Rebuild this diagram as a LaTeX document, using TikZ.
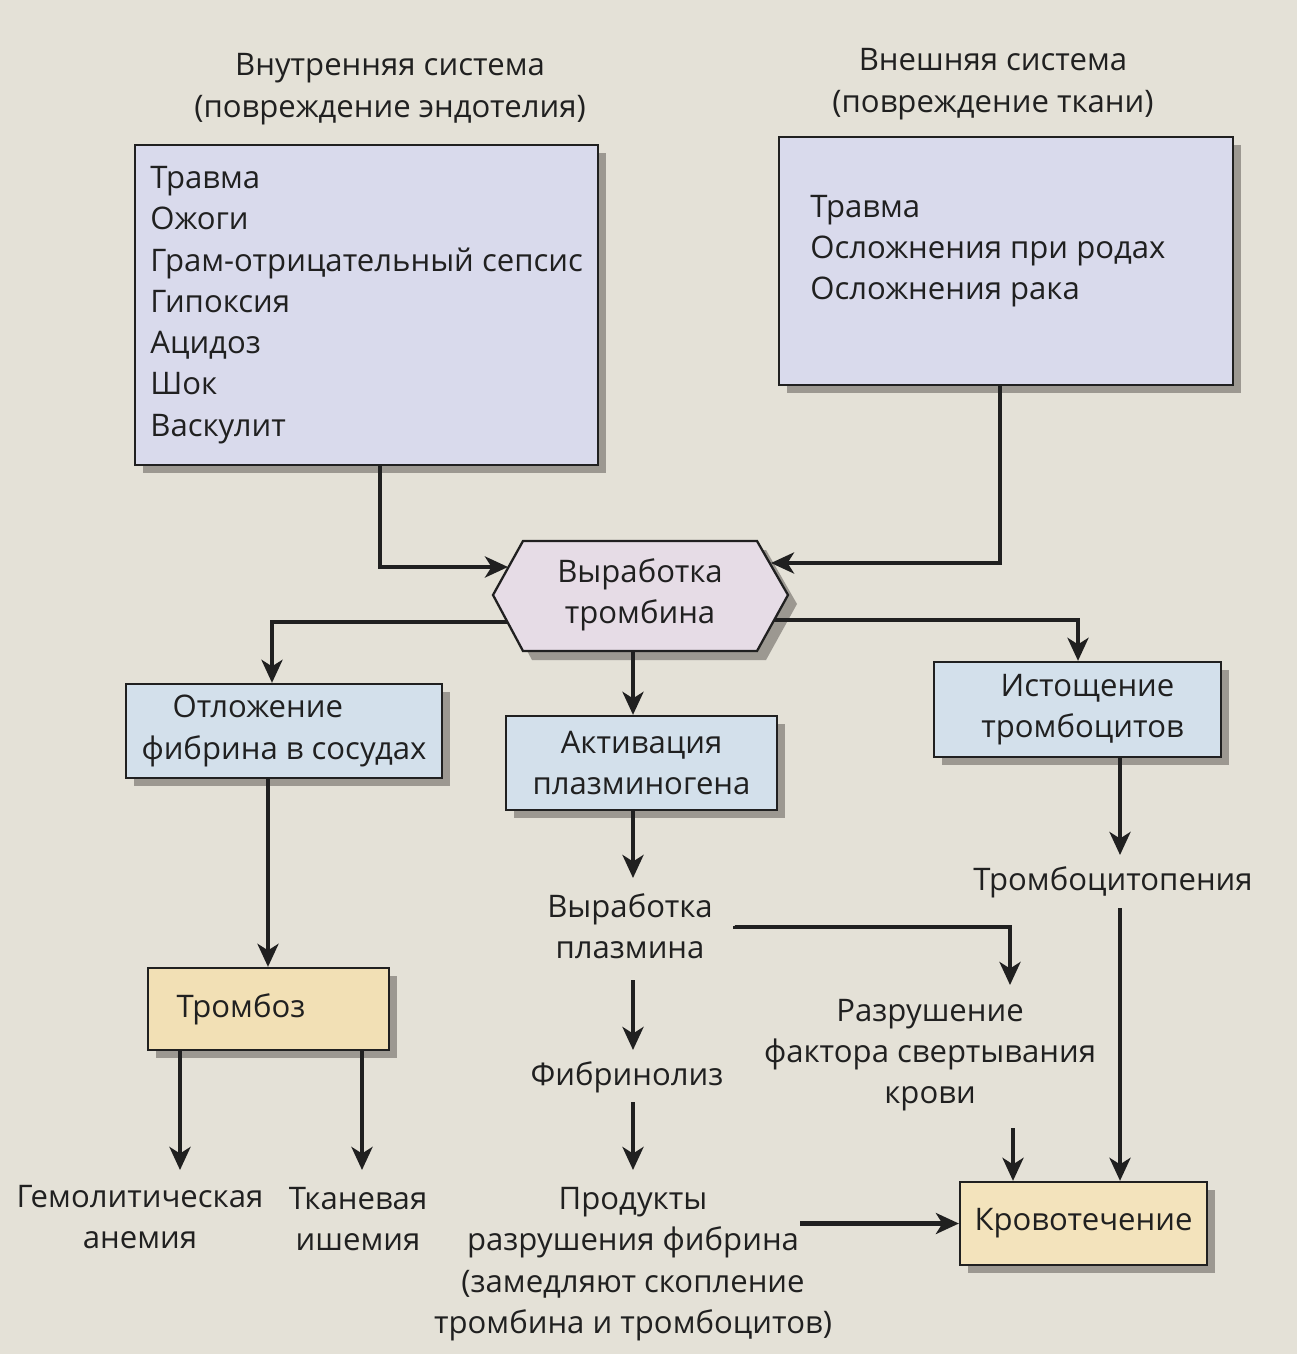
\documentclass[tikz,border=0pt]{standalone}
\usepackage{fontspec}
\setmainfont{Open Sans}
\usetikzlibrary{arrows.meta,shadows,calc}
\definecolor{bg}{HTML}{E4E1D7}
\definecolor{lav}{HTML}{D9DAEC}
\definecolor{hexc}{HTML}{E6DCE6}
\definecolor{lblue}{HTML}{D3E0EB}
\definecolor{tan}{HTML}{F2E0B5}
\definecolor{tan2}{HTML}{F3E3BC}
\definecolor{ink}{HTML}{202020}
\definecolor{shad}{HTML}{9C9891}
\tikzset{
  every node/.style={text=ink, font=\fontsize{17.7}{23.5}\selectfont},
  box/.style={draw=ink, line width=1.3pt, inner sep=0pt, align=center,
    drop shadow={shadow xshift=0.16cm, shadow yshift=-0.16cm, fill=shad, opacity=1}},
  txt/.style={align=center, inner sep=2pt},
  arr/.style={draw=ink, line width=2.3pt, -{Stealth[length=0.46cm, width=0.42cm, inset=0.13cm]}},
  ln/.style={draw=ink, line width=2.3pt},
}
\begin{document}
\begin{tikzpicture}[x=0.02cm, y=-0.02cm]
\useasboundingbox (0,0) rectangle (1297,1354);
\fill[bg] (0,0) rectangle (1297,1354);

% titles
\node[txt] (t1) at (390,89) {Внутренняя система\\(повреждение эндотелия)};
\node[txt] (t2) at (993,84) {Внешняя система\\(повреждение ткани)};

% top boxes
\node[box, fill=lav, minimum width=9.26cm, minimum height=6.4cm] (box1) at (366.5,305) {};
\node[txt, anchor=west, align=left, inner sep=0pt] (box1t) at (150,305)
  {Травма\\Ожоги\\Грам-отрицательный сепсис\\Гипоксия\\Ацидоз\\Шок\\Васкулит};
\node[box, fill=lav, minimum width=9.08cm, minimum height=4.96cm] (box2) at (1006,261) {};
\node[txt, anchor=west, align=left, inner sep=0pt] (box2t) at (810,251)
  {Травма\\Осложнения при родах\\Осложнения рака};

% hexagon
\coordinate (hL) at (493,595);
\coordinate (hTL) at (523,541);
\coordinate (hTR) at (757,541);
\coordinate (hR) at (788,595);
\coordinate (hBR) at (757,651);
\coordinate (hBL) at (523,651);
\fill[shad] ($(hL)+(9,9)$) -- ($(hTL)+(9,9)$) -- ($(hTR)+(9,9)$) -- ($(hR)+(9,9)$) -- ($(hBR)+(9,9)$) -- ($(hBL)+(9,9)$) -- cycle;
\filldraw[fill=hexc, draw=ink, line width=1.3pt] (hL) -- (hTL) -- (hTR) -- (hR) -- (hBR) -- (hBL) -- cycle;
\node[txt] (thr) at (640,595) {Выработка\\тромбина};
\coordinate (h1) at (508,567);
\coordinate (h2) at (771,563);
\coordinate (h3) at (507,622);
\coordinate (h4) at (774,620);
\coordinate (h5) at (633,651);

% middle boxes
\node[box, fill=lblue, minimum width=6.32cm, minimum height=1.88cm] (box3) at (284,731)
  {Отложение\hspace*{1.05cm}\\фибрина в сосудах};
\node[box, fill=lblue, minimum width=5.42cm, minimum height=1.88cm] (box4) at (641.5,763)
  {Активация\\плазминогена};
\node[box, fill=lblue, minimum width=5.74cm, minimum height=1.9cm] (box5) at (1077.5,709.5)
  {\hspace*{0.4cm}Истощение\\\hspace*{0.2cm}тромбоцитов};

% lower
\node[txt] (plas) at (630,926) {Выработка\\плазмина};
\node[txt] (tcp) at (1113,882) {Тромбоцитопения};
\node[txt] (razr) at (930,1055) {Разрушение\\фактора свертывания\\крови};
\node[txt] (fib) at (627,1077) {Фибринолиз};
\node[txt] (prod) at (633,1264) {Продукты\\разрушения фибрина\\(замедляют скопление\\тромбина и тромбоцитов)};
\node[box, fill=tan, minimum width=4.82cm, minimum height=1.64cm] (tromb) at (268.5,1009)
  {Тромбоз\hspace*{1.1cm}};
\node[box, fill=tan2, minimum width=4.94cm, minimum height=1.66cm] (krov) at (1083.5,1223.5)
  {Кровотечение};
\node[txt] (gem) at (140,1217) {Гемолитическая\\анемия};
\node[txt] (tkan) at (358,1219) {Тканевая\\ишемия};

% connectors
\draw[arr] (380,0 |- box1.south) |- (h1);
\draw[arr] (1000,0 |- box2.south) |- (h2);
\draw[arr] (h3) -| (272,0 |- box3.north);
\draw[arr] (h4) -| (1078,0 |- box5.north);
\draw[arr] (h5) -- (633,0 |- box4.north);
\draw[arr] (633,0 |- box4.south) -- (633,878);
\draw[arr] (1120,0 |- box5.south) -- (1120,855);
\draw[arr] (735,0 |- plas.east) -- ++(0,1) -| (1010,985);
\draw[arr] (633,980) -- (633,1050);
\draw[arr] (633,1102) -- (633,1170);
\draw[arr] (800,0 |- krov.west) -- (krov.west);
\draw[arr] (1013,1128) -- (1013,0 |- krov.north);
\draw[arr] (1120,908) -- (1120,0 |- krov.north);
\draw[arr] (268,0 |- box3.south) -- (268,0 |- tromb.north);
\draw[arr] (180,0 |- tromb.south) -- (180,1170);
\draw[arr] (362,0 |- tromb.south) -- (362,1170);
\end{tikzpicture}
\end{document}
